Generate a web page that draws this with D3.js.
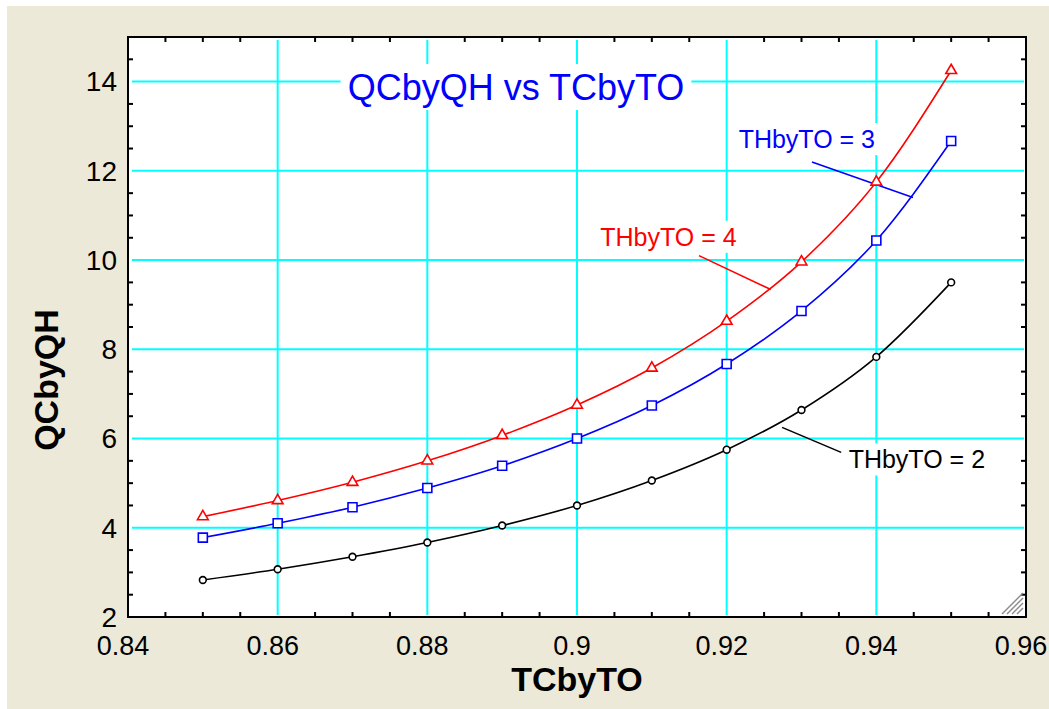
<!DOCTYPE html>
<html>
<head>
<meta charset="utf-8">
<script src="https://cdn.jsdelivr.net/npm/d3@7"></script>
<style>
  body { margin: 0; background: #fff; }
  text { font-family: "Liberation Sans", Arial, sans-serif; }
</style>
</head>
<body>
<svg id="chart" width="1049" height="709"></svg>
<script>
// values
const tcByTo = [0.85, 0.86, 0.87, 0.88, 0.89, 0.90, 0.91, 0.92, 0.93, 0.94, 0.95];
const qcByQh2 = [2.83, 3.07, 3.35, 3.67, 4.05, 4.50, 5.06, 5.75, 6.64, 7.83, 9.50];
const qcByQh3 = [3.78, 4.10, 4.46, 4.89, 5.39, 6.00, 6.74, 7.67, 8.86, 10.44, 12.67];
const qcByQh4 = [4.25, 4.61, 5.02, 5.50, 6.07, 6.75, 7.58, 8.63, 9.96, 11.75, 14.25];

const xTicks = [0.84, 0.86, 0.88, 0.9, 0.92, 0.94, 0.96];
const yTicks = [2, 4, 6, 8, 10, 12, 14];

const seriesNames = ['THbyTO = 2', 'THbyTO = 3', 'THbyTO = 4'];

// label anchors, in data units: [text x, text y], leader start, leader end
const noteAt = [[0.9363, 5.33], [0.9216, 12.51], [0.9031, 10.32]];
const leaderFrom = [[0.9274, 6.25], [0.9314, 12.20], [0.9163, 10.10]];
const leaderTo = [[0.9353, 5.69], [0.9449, 11.40], [0.9259, 9.34]];

const colors = ['#000000', '#0000ff', '#ff0000'];
const symbols = [d3.symbolCircle, d3.symbolSquare, d3.symbolTriangle];
const symbolSizes = [36, 81, 50];

const plot = { left: 128, right: 1026, top: 37, bottom: 617 };
const tickLen = 5;

const svg = d3.select('#chart');

const x = d3.scaleLinear().domain([0.84, 0.96]).range([plot.left, plot.right]);
const y = d3.scaleLinear().domain([2, 15]).range([plot.bottom, plot.top]);

const series = [qcByQh2, qcByQh3, qcByQh4].map((vals, i) => {
  return {
    name: seriesNames[i],
    color: colors[i],
    symbol: symbols[i],
    size: symbolSizes[i],
    points: vals.map((v, j) => ({ x: tcByTo[j], y: v })),
    note: noteAt[i],
    from: leaderFrom[i],
    to: leaderTo[i]
  };
});

// window background
svg.append('rect')
  .attr('x', 7).attr('y', 6)
  .attr('width', 1049 - 7).attr('height', 709 - 6)
  .attr('fill', '#ece9d8');

svg.append('rect')
  .attr('x', plot.left).attr('y', plot.top)
  .attr('width', plot.right - plot.left)
  .attr('height', plot.bottom - plot.top)
  .attr('fill', '#ffffff');

// grid
const gridX = xTicks.slice(1, -1);
const gridY = yTicks.slice(1);

svg.selectAll('line.gridx')
  .data(gridX)
  .enter()
  .append('line')
  .attr('class', 'gridx')
  .attr('x1', d => x(d)).attr('x2', d => x(d))
  .attr('y1', plot.top + 3).attr('y2', plot.bottom - 2)
  .attr('stroke', '#00ffff')
  .attr('stroke-width', 2);

svg.selectAll('line.gridy')
  .data(gridY)
  .enter()
  .append('line')
  .attr('class', 'gridy')
  .attr('y1', d => y(d)).attr('y2', d => y(d))
  .attr('x1', plot.left + 4).attr('x2', plot.right - 2)
  .attr('stroke', '#00ffff')
  .attr('stroke-width', 2);

// title, with white box over the grid
const titleG = svg.append('g');
const title = titleG.append('text')
  .text('QCbyQH vs TCbyTO')
  .attr('x', 516)
  .attr('y', 100)
  .attr('text-anchor', 'middle')
  .attr('font-size', '36px')
  .attr('fill', '#0000ff');
const tb = title.node().getBBox();
titleG.insert('rect', 'text')
  .attr('x', tb.x - 7).attr('y', tb.y - 3)
  .attr('width', tb.width + 14).attr('height', tb.height + 5)
  .attr('fill', '#ffffff');

// curves
const line = d3.line()
  .x(d => x(d.x))
  .y(d => y(d.y))
  .curve(d3.curveMonotoneX);

const seriesG = svg.selectAll('g.series')
  .data(series)
  .enter()
  .append('g')
  .attr('class', 'series');

// curve labels with white background
seriesG.each(function(s) {
  const g = d3.select(this);
  const lg = g.append('g');
  const t = lg.append('text')
    .text(s.name)
    .attr('x', x(s.note[0]))
    .attr('y', y(s.note[1]))
    .attr('font-size', '25px')
    .attr('fill', s.color);
  const b = t.node().getBBox();
  lg.insert('rect', 'text')
    .attr('x', b.x - 4).attr('y', b.y - 2)
    .attr('width', b.width + 8).attr('height', b.height + 4)
    .attr('fill', '#ffffff');
});

seriesG.append('path')
  .attr('d', d => line(d.points))
  .attr('fill', 'none')
  .attr('stroke', d => d.color)
  .attr('stroke-width', 1.6);

seriesG.selectAll('path.marker')
  .data(d => d.points.map(p => ({ p: p, s: d })))
  .enter()
  .append('path')
  .attr('class', 'marker')
  .attr('transform', d => 'translate(' + x(d.p.x) + ',' + y(d.p.y) + ')')
  .attr('d', d => d3.symbol().type(d.s.symbol).size(d.s.size)())
  .attr('fill', '#ffffff')
  .attr('stroke', d => d.s.color)
  .attr('stroke-width', 1.6);

seriesG.append('line')
  .attr('x1', d => x(d.from[0])).attr('y1', d => y(d.from[1]))
  .attr('x2', d => x(d.to[0])).attr('y2', d => y(d.to[1]))
  .attr('stroke', d => d.color)
  .attr('stroke-width', 1.6);

// minor ticks on all four sides
const xMinor = d3.range(0, 25).map(i => 0.84 + i * 0.005)
  .filter(v => !xTicks.some(t => Math.abs(t - v) < 1e-9));
const yMinor = d3.range(0, 27).map(i => 2 + i * 0.5)
  .filter(v => !yTicks.some(t => Math.abs(t - v) < 1e-9) && v < 15);

[plot.bottom, plot.top].forEach((yy, k) => {
  svg.selectAll('line.xminor' + k)
    .data(xMinor)
    .enter()
    .append('line')
    .attr('x1', d => x(d)).attr('x2', d => x(d))
    .attr('y1', yy).attr('y2', k === 0 ? yy - tickLen : yy + tickLen)
    .attr('stroke', '#000')
    .attr('stroke-width', 2);
});

[plot.left, plot.right].forEach((xx, k) => {
  svg.selectAll('line.yminor' + k)
    .data(yMinor)
    .enter()
    .append('line')
    .attr('y1', d => y(d)).attr('y2', d => y(d))
    .attr('x1', xx).attr('x2', k === 0 ? xx + tickLen : xx - tickLen)
    .attr('stroke', '#000')
    .attr('stroke-width', 2);
});

// frame
svg.append('rect')
  .attr('x', plot.left).attr('y', plot.top)
  .attr('width', plot.right - plot.left)
  .attr('height', plot.bottom - plot.top)
  .attr('fill', 'none')
  .attr('stroke', '#000')
  .attr('stroke-width', 2);

// resize grip in the corner
svg.selectAll('line.grip')
  .data([6, 11, 16, 21])
  .enter()
  .append('line')
  .attr('x1', d => plot.right - 3 - d).attr('y1', plot.bottom - 3)
  .attr('x2', plot.right - 3).attr('y2', d => plot.bottom - 3 - d)
  .attr('stroke', '#8c8c8c')
  .attr('stroke-width', 1.5);

// tick labels
svg.selectAll('text.xlabel')
  .data(xTicks)
  .enter()
  .append('text')
  .attr('class', 'xlabel')
  .text(d => String(+d.toFixed(2)))
  .attr('x', d => x(d) - 5)
  .attr('y', plot.bottom + 38)
  .attr('text-anchor', 'middle')
  .attr('font-size', '27px')
  .attr('fill', '#000');

svg.selectAll('text.ylabel')
  .data(yTicks)
  .enter()
  .append('text')
  .attr('class', 'ylabel')
  .text(d => d)
  .attr('x', plot.left - 11)
  .attr('y', d => y(d))
  .attr('dy', '0.35em')
  .attr('text-anchor', 'end')
  .attr('font-size', '28px')
  .attr('fill', '#000');

// axis titles
svg.append('text')
  .text('TCbyTO')
  .attr('x', (plot.left + plot.right) / 2)
  .attr('y', 691)
  .attr('text-anchor', 'middle')
  .attr('font-size', '34px')
  .attr('font-weight', 'bold')
  .attr('fill', '#000');

svg.append('text')
  .text('QCbyQH')
  .attr('transform', 'translate(58,380) rotate(-90)')
  .attr('text-anchor', 'middle')
  .attr('font-size', '34px')
  .attr('font-weight', 'bold')
  .attr('fill', '#000');
</script>
</body>
</html>
